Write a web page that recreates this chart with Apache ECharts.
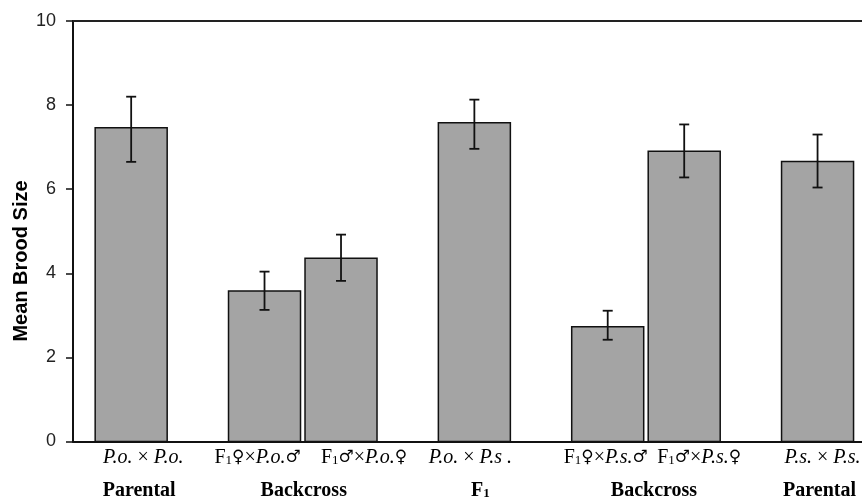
<!DOCTYPE html>
<html>
<head>
<meta charset="utf-8">
<script src="https://cdn.jsdelivr.net/npm/echarts@6/dist/echarts.min.js"></script>
<style>html,body{margin:0;padding:0;background:#fff}#c{width:862px;height:500px}</style>
</head>
<body>
<div id="c"></div>
<script>
// ---- data ----
const groupNames = ['Parental', 'Backcross', 'F{gsub|1}', 'Backcross', 'Parental'];
const crossLabels = [
  '{i|P.o.} × {i|P.o.}',
  'F{sub|1}{s|♀}×{i|P.o.}{s|♂}',
  'F{sub|1}{s|♂}×{i|P.o.}{s|♀}',
  '{i|P.o.} × {i|P.s .}',
  'F{sub|1}{s|♀}×{i|P.s.}{s|♂}',
  'F{sub|1}{s|♂}×{i|P.s.}{s|♀}',
  '{i|P.s.} × {i|P.s.}'
];
const crossGroup = [0, 1, 1, 2, 3, 3, 4];
const meanBrood = [7.46, 3.58, 4.36, 7.58, 2.73, 6.90, 6.66];
const errLower = [6.65, 3.13, 3.82, 6.96, 2.42, 6.28, 6.04];
const errUpper = [8.20, 4.04, 4.92, 8.13, 3.11, 7.54, 7.30];
const yTicks = [0, 2, 4, 6, 8, 10];

// ---- layout / style ----
const BAR_W = 72, PITCH = 76.5, CAP = 10;
const labelShift = [12, -7, 23, -4, -2, 15, 5];
const groupShift = [8, 1, 6, 8, 2];
const FILL = '#a4a4a4';

const rich = {
  i: { fontFamily: 'Liberation Serif', fontStyle: 'italic', fontSize: 20, color: '#000' },
  s: { fontFamily: 'DejaVu Serif', fontSize: 17, color: '#000' },
  sub: { fontFamily: 'Liberation Serif', fontSize: 13, color: '#000', verticalAlign: 'bottom' }
};
const grich = {
  gsub: { fontFamily: 'Liberation Serif', fontWeight: 'bold', fontSize: 13, color: '#000', verticalAlign: 'bottom' }
};

const barData = meanBrood.map((m, i) => [crossGroup[i], m, errLower[i], errUpper[i]]);
const groupData = groupNames.map((n, i) => [i, 0]);

const chart = echarts.init(document.getElementById('c'), null, { renderer: 'canvas' });
chart.setOption({
  animation: false,
  backgroundColor: '#fff',
  grid: { left: 73, right: 0, top: 21, bottom: 58.5, containLabel: false },
  xAxis: [
    { type: 'value', min: -0.339, max: 4.259, position: 'bottom',
      axisLine: { show: true, onZero: false, lineStyle: { color: '#111', width: 2 } },
      axisTick: { show: false }, axisLabel: { show: false }, splitLine: { show: false } },
    { type: 'value', min: -0.339, max: 4.259, position: 'top',
      axisLine: { show: true, onZero: false, lineStyle: { color: '#222', width: 2 } },
      axisTick: { show: false }, axisLabel: { show: false }, splitLine: { show: false } }
  ],
  yAxis: {
    type: 'value', min: yTicks[0], max: yTicks[yTicks.length - 1], interval: 2,
    axisLine: { show: true, onZero: false, lineStyle: { color: '#111', width: 2 } },
    axisTick: { show: true, inside: false, length: 7, lineStyle: { color: '#111', width: 1.5 } },
    axisLabel: { margin: 17, fontFamily: 'Liberation Sans', fontSize: 18, color: '#222' },
    splitLine: { show: false }
  },
  graphic: [{
    type: 'text', x: 21, y: 261, rotation: Math.PI / 2,
    style: { text: 'Mean Brood Size', fontFamily: 'Liberation Sans', fontWeight: 'bold', fontSize: 20,
      fill: '#000', align: 'center', verticalAlign: 'middle' }
  }],
  series: [
    {
      type: 'custom', clip: false, xAxisIndex: 0,
      data: barData,
      encode: { x: 0, y: 1 },
      renderItem: function (params, api) {
        const idx = params.dataIndex;
        const g = api.value(0), m = api.value(1), lo = api.value(2), hi = api.value(3);
        const members = [];
        crossGroup.forEach((gg, j) => { if (gg === crossGroup[idx]) members.push(j); });
        const k = members.indexOf(idx), n = members.length;
        const base = api.coord([g, 0]);
        const top = api.coord([g, m]);
        const cx = base[0] + (k - (n - 1) / 2) * PITCH;
        const yHi = api.coord([g, hi])[1], yLo = api.coord([g, lo])[1];
        return {
          type: 'group',
          children: [
            { type: 'rect', shape: { x: cx - BAR_W / 2, y: top[1], width: BAR_W, height: base[1] - top[1] },
              style: { fill: FILL, stroke: '#111', lineWidth: 1.5 } },
            { type: 'line', shape: { x1: cx, y1: yHi, x2: cx, y2: yLo }, style: { stroke: '#111', lineWidth: 1.8 } },
            { type: 'line', shape: { x1: cx - CAP / 2, y1: yHi, x2: cx + CAP / 2, y2: yHi }, style: { stroke: '#111', lineWidth: 1.8 } },
            { type: 'line', shape: { x1: cx - CAP / 2, y1: yLo, x2: cx + CAP / 2, y2: yLo }, style: { stroke: '#111', lineWidth: 1.8 } },
            { type: 'text', x: cx + labelShift[idx], y: base[1] + 16,
              style: { text: crossLabels[idx], rich: rich, fontFamily: 'Liberation Serif', fontSize: 20,
                fill: '#000', align: 'center', verticalAlign: 'middle' } }
          ]
        };
      }
    },
    {
      type: 'custom', clip: false, xAxisIndex: 0,
      data: groupData,
      encode: { x: 0, y: 1 },
      renderItem: function (params, api) {
        const idx = params.dataIndex;
        const p = api.coord([api.value(0), 0]);
        return {
          type: 'text', x: p[0] + groupShift[idx], y: p[1] + 49,
          style: { text: groupNames[idx], rich: grich, fontFamily: 'Liberation Serif', fontWeight: 'bold',
            fontSize: 20, fill: '#000', align: 'center', verticalAlign: 'middle' }
        };
      }
    }
  ]
});
</script>
</body>
</html>
